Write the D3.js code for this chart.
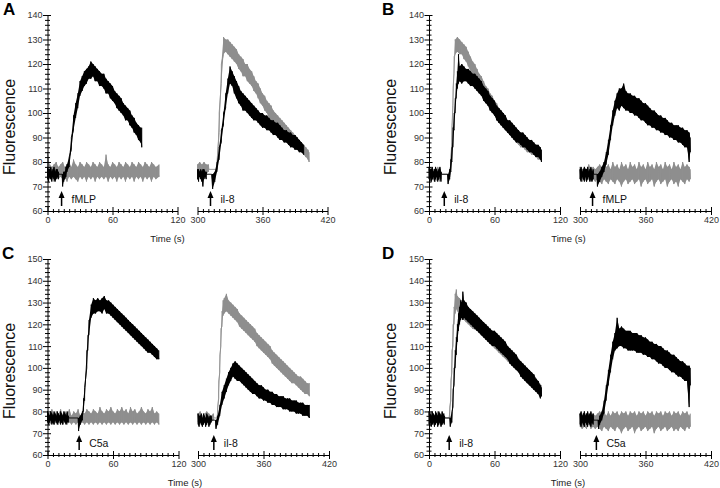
<!DOCTYPE html>
<html><head><meta charset="utf-8">
<script src="https://cdn.jsdelivr.net/npm/d3@7"></script>
<style>body{margin:0;background:#fff}svg{display:block}text{font-family:"Liberation Sans",Arial,sans-serif}</style>
</head><body><svg id="c" width="720" height="488"></svg>
<script>
// ---- data: each trace is [time (s), low, high] of the noisy fluorescence signal ----
const A_L_gray=[[0,74,84],[2,73,79],[4,74,78],[6,72,79],[8,74,80],[10,73,78],[12,74,79],[14,73,80],[16,74,78],[18,72,79],[20,74,80],[22,73,78],[24,74,81],[26,73,79],[28,72,78],[30,74,80],[32,73,79],[34,74,78],[36,72,80],[38,74,79],[40,73,78],[42,74,80],[44,72,79],[46,74,78],[48,73,80],[50,74,79],[52,73,78],[54,74,83],[56,72,79],[58,74,78],[60,73,80],[62,74,79],[64,72,78],[66,74,80],[68,73,79],[70,74,78],[72,72,80],[74,74,79],[76,73,78],[78,74,80],[80,72,79],[82,74,78],[84,73,80],[86,74,79],[88,72,78],[90,74,80],[92,73,79],[94,74,78],[96,72,80],[98,74,79],[100,73,78],[103,74,79]];
const A_L_black=[[0,73,78],[1,72,77],[2,74,77],[3,73,78],[4,72,76],[5,74,77],[6,73,78],[7,72,76],[8,73,77],[9,74,77],[10,73,76],[10.5,75,75],[13.5,75,75],[14,70,75],[15,72,76],[16,73,76],[17,74,78],[18,76,79],[20,78,82],[22,85,90],[24,93,99],[26,98,104],[28,102,108],[30,107,113],[32,109,115],[34,111,117],[36,112,118],[38,114,119],[40,114,121],[42,115,120],[44,113,119],[46,113,118],[48,111,117],[50,111,116],[52,110,116],[54,108,114],[56,108,113],[58,106,112],[60,105,111],[62,104,109],[64,102,108],[66,101,107],[68,100,106],[70,99,104],[72,97,103],[74,97,102],[76,95,101],[78,94,99],[80,92,98],[82,91,96],[84,89,95],[86,88,94],[87,86,94]];
const A_R_gray=[[300,75,79],[302,76,80],[304,75,79],[306,76,80],[308,75,79],[310,76,79],[310.5,77,77],[317,77,77],[318,77,80],[320,92,100],[322,112,120],[324,124,131],[326,125,130],[328,124,130],[330,123,129],[332,122,128],[334,121,127],[336,120,126],[338,118,124],[340,117,123],[342,115,122],[344,115,120],[346,113,120],[348,112,118],[350,111,117],[352,109,115],[354,108,113],[356,106,112],[358,104,110],[360,103,108],[362,101,107],[364,100,105],[366,98,104],[368,97,103],[370,96,101],[372,95,100],[374,94,99],[376,93,98],[378,92,97],[380,91,96],[382,90,95],[384,89,94],[386,88,93],[388,87,92],[390,86,91],[392,85,90],[394,85,89],[396,84,88],[398,83,87],[400,82,86],[402,81,85],[403,80,84]];
const A_R_black=[[300,73,77],[301,72,77],[302,74,76],[303,73,77],[304,72,76],[305,70,77],[306,73,77],[307,74,76],[308,73,76],[308.5,75,75],[313,75,75],[314,69,75],[316,72,76],[318,76,80],[320,81,86],[322,88,93],[324,95,100],[326,102,108],[328,108,114],[330,112,119],[332,111,117],[334,108,115],[336,106,113],[338,104,111],[340,103,109],[342,101,108],[344,101,107],[346,100,106],[348,99,105],[350,98,104],[352,97,103],[354,97,102],[356,96,101],[358,95,100],[360,94,100],[362,94,99],[364,93,99],[366,93,98],[368,92,97],[370,91,97],[372,91,96],[374,90,96],[376,89,95],[378,89,94],[380,88,93],[382,88,93],[384,87,92],[386,86,92],[388,86,91],[390,85,91],[392,85,90],[394,84,89],[396,84,88],[398,83,87]];

const B_L_gray=[[0,73,77],[2,72,78],[4,73,77],[6,72,76],[8,73,78],[10,72,77],[11,73,76],[11.5,75,75],[18.5,75,75],[19,74,77],[20,76,82],[21,88,95],[22,103,110],[23,116,123],[24,124,130],[26,125,131],[28,124,130],[30,124,129],[32,122,128],[34,121,127],[36,119,125],[38,117,123],[40,115,121],[42,114,120],[44,112,118],[46,110,116],[48,109,115],[50,107,113],[52,105,111],[54,104,110],[56,102,108],[58,101,107],[60,99,105],[62,98,104],[64,96,102],[66,95,101],[68,94,100],[70,93,98],[72,92,97],[74,91,96],[76,90,95],[78,89,94],[80,88,93],[82,87,92],[84,86,91],[86,86,91],[88,85,90],[90,84,89],[92,84,89],[94,83,88],[96,83,87],[98,82,87],[100,81,86],[102,81,85]];
const B_L_black=[[0,73,78],[1,74,77],[2,72,77],[3,73,78],[4,74,76],[5,72,77],[6,73,78],[7,74,77],[8,72,76],[9,73,77],[10,74,78],[11,72,76],[11.5,75,75],[17,75,75],[17.5,71,75],[19,73,77],[20,76,81],[21,80,86],[22,86,94],[23,93,100],[24,100,106],[25,106,112],[26,110,117],[27,112,124],[28,113,119],[30,112,120],[32,113,119],[34,113,118],[36,112,118],[38,111,117],[40,111,116],[42,110,116],[44,109,115],[46,108,114],[48,107,113],[50,105,111],[52,104,110],[54,103,109],[56,101,107],[58,100,106],[60,99,105],[62,97,103],[64,96,102],[66,95,101],[68,94,100],[70,93,99],[72,92,97],[74,91,97],[76,90,96],[78,89,95],[80,88,94],[82,88,93],[84,87,92],[86,86,92],[88,86,91],[90,85,90],[92,84,89],[94,84,89],[96,83,88],[98,82,87],[100,82,87],[102,81,86],[103,80,85]];
const B_R_gray=[[300,73,78],[302,72,77],[304,73,78],[306,72,77],[308,73,79],[310,72,77],[312,73,78],[314,72,77],[316,73,78],[318,72,79],[320,71,78],[322,73,80],[324,72,78],[326,71,79],[328,73,77],[330,72,80],[332,71,78],[334,73,79],[336,72,77],[338,70,80],[340,72,78],[342,73,79],[344,71,77],[346,72,80],[348,73,78],[350,71,79],[352,72,77],[354,73,80],[356,70,78],[358,72,79],[360,73,77],[362,71,80],[364,72,78],[366,73,79],[368,70,77],[370,72,80],[372,73,78],[374,71,79],[376,72,77],[378,73,80],[380,70,78],[382,72,79],[384,73,77],[386,71,80],[388,72,78],[390,70,79],[392,73,77],[394,72,80],[396,71,78],[398,73,79],[400,72,78],[401,73,77]];
const B_R_black=[[300,73,77],[301,72,78],[302,74,76],[303,73,77],[304,72,78],[305,74,77],[306,72,77],[307,73,78],[308,74,76],[309,72,77],[310,73,78],[311,72,76],[312,73,77],[312.5,75,75],[315.5,75,75],[316,70,75],[318,72,76],[320,74,78],[322,76,80],[324,79,84],[326,83,89],[328,89,95],[330,95,101],[332,99,105],[334,102,108],[336,101,110],[338,103,110],[340,102,112],[342,101,109],[344,101,108],[346,100,108],[348,100,107],[350,99,107],[352,99,106],[354,98,106],[356,97,105],[358,97,104],[360,96,104],[362,95,103],[364,95,102],[366,94,101],[368,94,101],[370,93,100],[372,93,99],[374,92,99],[376,92,98],[378,91,98],[380,91,97],[382,90,96],[384,90,96],[386,89,95],[388,89,95],[390,88,95],[392,88,94],[394,87,94],[396,86,93],[398,86,93],[400,80,92],[401,84,90]];

const C_L_gray=[[0,75,80],[2,74,79],[4,75,81],[6,74,78],[8,75,80],[10,74,79],[12,75,81],[14,74,78],[16,75,80],[18,74,79],[20,75,81],[22,74,78],[24,75,80],[26,74,79],[28,75,81],[30,74,78],[32,75,80],[34,74,79],[36,75,81],[38,74,80],[40,75,79],[42,74,81],[44,75,80],[46,74,79],[48,75,82],[50,74,80],[52,75,79],[54,74,81],[56,75,80],[58,74,82],[60,75,80],[62,74,79],[64,75,81],[66,74,80],[68,75,82],[70,74,80],[72,75,81],[74,74,79],[76,75,82],[78,74,80],[80,75,81],[82,74,79],[84,75,80],[86,74,82],[88,75,80],[90,74,79],[92,75,81],[94,74,80],[96,75,82],[98,74,79],[100,75,80],[102,74,79]];
const C_L_black=[[0,75,80],[1,74,79],[2,75,78],[3,76,80],[4,74,79],[5,75,78],[6,74,80],[7,76,79],[8,75,78],[9,74,80],[10,75,79],[11,76,78],[12,74,80],[13,75,79],[14,74,78],[15,76,80],[16,75,79],[17,74,78],[18,75,80],[19,75,78],[19.5,77,77],[28,77,77],[28.5,71,77],[30,74,78],[32,76,80],[33,80,86],[34,85,91],[36,100,108],[37,108,115],[38,115,122],[40,123,129],[42,125,132],[44,125,131],[46,126,132],[48,126,131],[50,125,132],[52,127,133],[54,125,131],[56,125,131],[58,124,130],[60,123,129],[62,122,128],[64,121,127],[66,120,126],[68,119,125],[70,118,124],[72,117,123],[74,116,122],[76,115,121],[78,114,120],[80,113,119],[82,112,118],[84,111,117],[86,110,116],[88,109,115],[90,108,114],[92,107,113],[94,107,112],[96,106,111],[98,105,110],[100,104,109],[102,104,108]];
const C_R_gray=[[300,75,79],[302,76,80],[304,75,78],[306,76,79],[308,75,80],[310,76,79],[312,75,78],[314,76,79],[314.5,77,77],[317,77,77],[318,78,82],[319,86,94],[320,98,106],[321,110,118],[322,119,126],[323,124,131],[324,125,132],[326,126,134],[328,125,131],[330,124,130],[332,123,129],[334,122,128],[336,121,127],[338,119,125],[340,118,124],[342,117,123],[344,116,122],[346,115,121],[348,114,120],[350,113,119],[352,112,118],[354,110,116],[356,109,115],[358,108,114],[360,107,113],[362,106,112],[364,105,111],[366,104,110],[368,102,108],[370,101,107],[372,100,106],[374,99,105],[376,98,104],[378,97,103],[380,96,102],[382,95,101],[384,94,100],[386,93,99],[388,93,98],[390,92,97],[392,91,96],[394,90,96],[396,89,95],[398,88,94],[400,88,93],[402,87,93]];
const C_R_black=[[300,74,79],[301,73,78],[302,75,78],[303,74,79],[304,73,77],[305,74,79],[306,75,78],[307,73,77],[308,74,79],[309,75,78],[310,73,77],[311,74,78],[312,75,78],[312.5,76,76],[316,76,76],[316.5,72,76],[318,74,78],[320,78,83],[322,83,89],[324,86,92],[326,89,95],[328,92,98],[330,94,100],[332,96,102],[334,95,103],[336,94,102],[338,94,101],[340,93,100],[342,92,99],[344,91,98],[346,90,97],[348,89,96],[350,88,95],[352,88,94],[354,87,93],[356,86,92],[358,86,92],[360,85,91],[362,85,90],[364,84,90],[366,84,89],[368,83,89],[370,83,88],[372,82,88],[374,82,87],[376,82,87],[378,81,87],[380,81,86],[382,81,86],[384,80,86],[386,80,85],[388,80,85],[390,79,85],[392,79,84],[394,79,84],[396,78,84],[398,78,83],[400,78,83],[402,77,83]];

const D_L_gray=[[0,74,79],[2,75,80],[4,74,78],[6,75,79],[8,74,80],[10,75,79],[12,74,78],[14,75,79],[14.5,77,77],[18,77,77],[19,77,82],[20,85,94],[21,98,108],[22,110,120],[23,120,128],[24,125,134],[25,127,136],[26,126,133],[28,124,132],[30,123,131],[32,122,130],[34,121,128],[36,120,127],[38,119,127],[40,118,126],[44,117,124],[48,115,122],[52,113,120],[56,111,118],[60,109,116],[64,107,114],[68,105,112],[72,103,110],[76,101,108],[80,99,106],[84,97,103],[88,94,101],[92,92,99],[96,90,97],[100,88,94],[103,87,92]];
const D_L_black=[[0,74,80],[1,75,79],[2,73,78],[3,74,80],[4,75,79],[5,73,78],[6,74,80],[7,75,79],[8,73,78],[9,74,80],[10,75,79],[11,73,78],[12,74,80],[13,75,79],[14,74,78],[14.5,77,77],[19,77,77],[19.5,73,77],[21,75,80],[22,82,90],[23,92,100],[24,100,108],[25,106,114],[26,112,120],[27,117,125],[28,120,128],[29,122,131],[30,123,130],[31,122,135],[32,123,131],[34,122,130],[36,121,128],[38,120,127],[40,119,126],[42,118,125],[44,117,124],[46,116,123],[48,115,122],[50,114,121],[52,113,120],[54,112,119],[56,111,118],[58,110,117],[60,110,117],[62,109,116],[64,108,115],[66,107,114],[68,106,113],[70,105,112],[72,104,110],[74,102,109],[76,101,108],[78,100,107],[80,99,106],[82,98,104],[84,96,103],[86,95,102],[88,94,101],[90,93,100],[92,92,99],[94,91,98],[96,90,97],[98,89,95],[100,88,94],[102,86,92],[103,87,91]];
const D_R_gray=[[300,73,79],[302,72,78],[304,73,80],[306,72,78],[308,74,79],[310,72,78],[312,73,79],[314,72,78],[316,73,79],[318,72,80],[320,71,79],[322,73,80],[324,72,78],[326,71,80],[328,73,78],[330,72,80],[332,71,79],[334,73,80],[336,72,78],[338,70,80],[340,72,79],[342,73,80],[344,71,78],[346,72,80],[348,73,79],[350,70,80],[352,72,78],[354,73,80],[356,71,79],[358,72,80],[360,73,78],[362,71,80],[364,72,79],[366,73,80],[368,70,78],[370,72,80],[372,73,79],[374,71,80],[376,72,78],[378,73,80],[380,71,79],[382,72,80],[384,73,78],[386,71,80],[388,72,79],[390,71,80],[392,73,78],[394,72,80],[396,71,79],[398,73,80],[400,72,78],[401,73,79]];
const D_R_black=[[300,74,79],[301,73,80],[302,75,78],[303,74,79],[304,73,80],[305,75,78],[306,74,79],[307,73,80],[308,75,78],[309,74,79],[310,73,80],[311,75,78],[312,74,79],[312.5,76,76],[316.5,76,76],[317,72,76],[318,74,78],[320,76,80],[322,79,85],[324,85,92],[326,92,99],[328,98,106],[330,104,112],[332,108,116],[334,109,123],[336,110,118],[338,110,119],[340,109,118],[342,109,117],[344,108,117],[346,108,117],[348,108,116],[350,108,116],[352,107,116],[354,107,115],[356,107,115],[358,106,114],[360,106,114],[362,105,113],[364,105,112],[366,104,112],[368,104,111],[370,103,111],[372,102,110],[374,102,110],[376,101,109],[378,100,108],[380,100,108],[382,99,107],[384,98,106],[386,98,106],[388,97,105],[390,96,104],[392,96,103],[394,95,103],[396,94,102],[398,94,101],[400,82,101],[401,92,100]];

// stimulus arrows: [time, label]
const A_stim=[[13,"fMLP"],[312,"il-8"]];
const B_stim=[[14,"il-8"],[311.5,"fMLP"]];
const C_stim=[[29,"C5a"],[314.5,"il-8"]];
const D_stim=[[18.5,"il-8"],[315,"C5a"]];

const xDomains=[[0,120],[300,420]];
const xLabelTicks=[0,60,120,300,360,420];

// ---- layout ----
const panels=[
 {id:"A",ox:47.5,segW:130,x2:197.5,top:15,bottom:211,yMax:140,gray:[A_L_gray,A_R_gray],black:[A_L_black,A_R_black],stim:A_stim,timeX:167.5,fluX:15,letterX:3},
 {id:"B",ox:429,segW:131,x2:580,top:15,bottom:211,yMax:140,gray:[B_L_gray,B_R_gray],black:[B_L_black,B_R_black],stim:B_stim,timeX:568.5,fluX:396,letterX:382},
 {id:"C",ox:47.5,segW:131,x2:198,top:259,bottom:455,yMax:150,gray:[C_L_gray,C_R_gray],black:[C_L_black,C_R_black],stim:C_stim,timeX:185,fluX:15,letterX:2},
 {id:"D",ox:429,segW:131,x2:580,top:259,bottom:455,yMax:150,gray:[D_L_gray,D_R_gray],black:[D_L_black,D_R_black],stim:D_stim,timeX:568,fluX:396,letterX:382}
];

const svg=d3.select("#c");
const GRAY="#8e8e8e";

panels.forEach(p=>{
  const g=svg.append("g");
  const y=d3.scaleLinear().domain([60,p.yMax]).range([p.bottom,p.top]);
  const xs=[d3.scaleLinear().domain(xDomains[0]).range([p.ox,p.ox+p.segW]),
            d3.scaleLinear().domain(xDomains[1]).range([p.x2,p.x2+p.segW])];

  // traces: min/max envelope filled as a band, with a zig-zag stroke for the noise
  const drawTrace=(data,xs_,color)=>{
    const area=d3.area().x(d=>xs_(d[0])).y0(d=>y(d[1])).y1(d=>y(d[2]));
    g.append("path").attr("d",area(data)).attr("fill",color).attr("stroke","none");
    const pts=data.flatMap(d=>[[d[0],d[1]],[d[0],d[2]]]);
    const line=d3.line().x(d=>xs_(d[0])).y(d=>y(d[1]));
    g.append("path").attr("d",line(pts)).attr("fill","none").attr("stroke",color)
      .attr("stroke-width",0.9).attr("stroke-linejoin","round");
  };
  [0,1].forEach(i=>drawTrace(p.gray[i],xs[i],GRAY));
  [0,1].forEach(i=>drawTrace(p.black[i],xs[i],"#000"));

  // y axis
  const yAxis=d3.axisLeft(y).tickValues(d3.range(60,p.yMax+1,2)).tickSize(0).tickSizeOuter(0).tickPadding(5)
    .tickFormat(d=>d%10===0?d:"");
  const gy=g.append("g").attr("transform",`translate(${p.ox},0)`).call(yAxis);
  gy.select(".domain").attr("stroke","#000");
  gy.selectAll(".tick line").attr("stroke","#000").attr("x1",d=>d%10===0?-4.5:-2.5).attr("x2",d=>d%10===0?3.5:2.5);
  gy.selectAll(".tick text").attr("fill","#333").style("font-size","9px").style("font-family","'Liberation Sans',Arial,sans-serif");

  // x axes (broken)
  xs.forEach((xsc,i)=>{
    const dom=xDomains[i];
    const ax=d3.axisBottom(xsc).tickValues(d3.range(dom[0],dom[1]+1,5)).tickSize(0).tickSizeOuter(0).tickPadding(6)
      .tickFormat(d=>xLabelTicks.includes(d)?d:"");
    const gx=g.append("g").attr("transform",`translate(0,${p.bottom})`).call(ax);
    gx.select(".domain").attr("stroke","#000");
    gx.selectAll(".tick line").attr("stroke","#000").attr("y1",d=>d%60===0?-4:-2).attr("y2",d=>d%60===0?4:2);
    gx.selectAll(".tick text").attr("fill","#333").style("font-size","9px").style("font-family","'Liberation Sans',Arial,sans-serif");
  });

  // stimulus arrows
  p.stim.forEach(([t,lab])=>{
    const xsc=t<200?xs[0]:xs[1];
    const ax=xsc(t), yb=p.bottom-5, yt=p.bottom-20;
    g.append("line").attr("x1",ax).attr("x2",ax).attr("y1",yb).attr("y2",yt+5).attr("stroke","#000").attr("stroke-width",1.5);
    g.append("path").attr("d",`M${ax},${yt}L${ax-3},${yt+7}L${ax+3},${yt+7}Z`).attr("fill","#000");
    g.append("text").attr("x",ax+10).attr("y",p.bottom-8.5).attr("font-size","10.5px").attr("fill","#111").text(lab);
  });

  // labels
  g.append("text").attr("x",p.timeX).attr("y",p.bottom+31).attr("text-anchor","middle").attr("font-size","9.5px").attr("fill","#222").text("Time (s)");
  g.append("text").attr("transform",`translate(${p.fluX},${(p.top+p.bottom)/2+14}) rotate(-90)`).attr("text-anchor","middle")
    .attr("font-size","16px").attr("fill","#111").text("Fluorescence");
  g.append("text").attr("x",p.letterX).attr("y",p.top).attr("font-size","17px").attr("font-weight","bold").attr("fill","#000").text(p.id);
});
</script></body></html>
